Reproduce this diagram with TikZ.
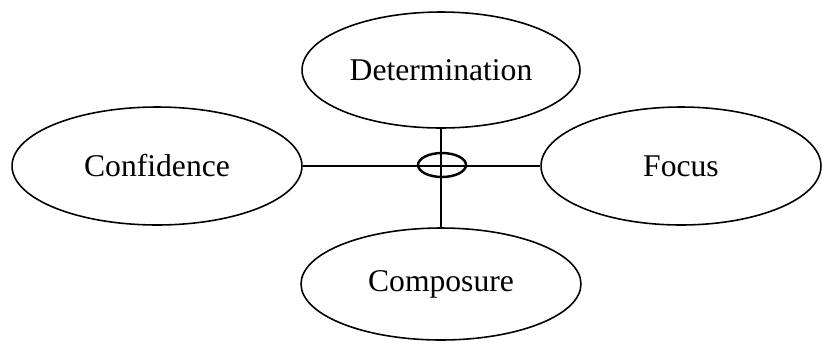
\documentclass[tikz,border=0pt]{standalone}
\usepackage{fontspec}
\setmainfont{Liberation Serif}
\usetikzlibrary{shapes.geometric}

\tikzset{
  trait/.style={draw, ellipse, line width=0.9pt, inner sep=0pt,
    font=\fontsize{18}{20}\selectfont},
  link/.style={line width=1pt}
}

\begin{document}
\begin{tikzpicture}[x=0.02cm,y=-0.02cm]
\useasboundingbox (0,0) rectangle (822,343);

\node[trait, minimum width=5.56cm, minimum height=2.32cm] (det) at (441,70) {Determination};
\node[trait, minimum width=5.8cm, minimum height=2.36cm] (conf) at (157,166) {Confidence};
\node[trait, minimum width=5.6cm, minimum height=2.36cm] (focus) at (681,166) {Focus};
\node[trait, minimum width=5.6cm, minimum height=2.24cm] (comp) at (441,284) {Composure};

\draw[link] (conf.east) -- (focus.west);
\draw[link] (det.south) -- (comp.north);

\node[draw, ellipse, line width=1.4pt, minimum width=0.96cm, minimum height=0.48cm, inner sep=0pt] (hub) at (442,165) {};
\end{tikzpicture}
\end{document}
